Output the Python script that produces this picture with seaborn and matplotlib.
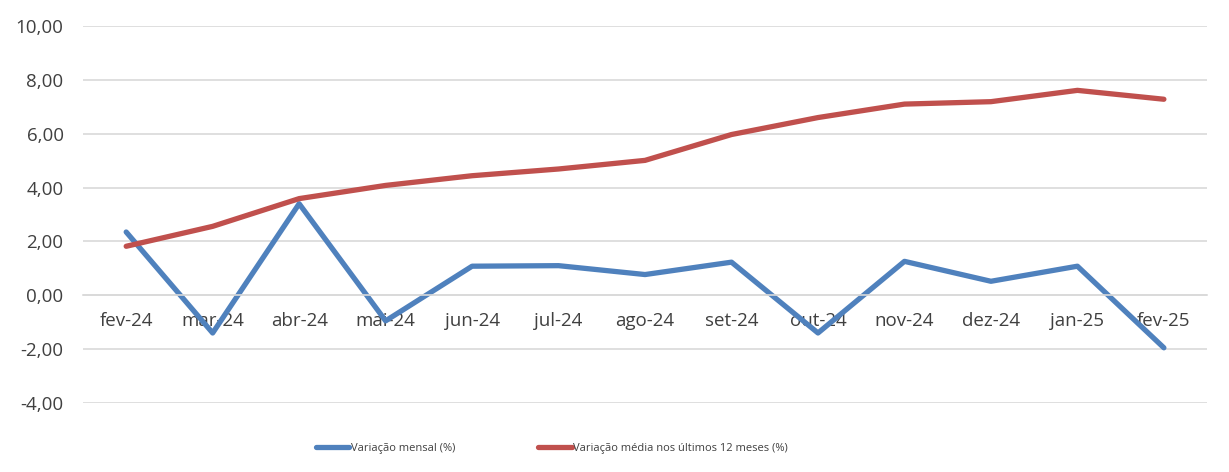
import numpy as np
import pandas as pd
import seaborn as sns
import matplotlib.pyplot as plt
from matplotlib.ticker import FuncFormatter, FixedLocator

# Data
meses = ["fev-24", "mar-24", "abr-24", "mai-24", "jun-24", "jul-24", "ago-24",
         "set-24", "out-24", "nov-24", "dez-24", "jan-25", "fev-25"]
var_mensal = [2.35, -1.40, 3.40, -0.95, 1.08, 1.10, 0.77, 1.23, -1.40, 1.26, 0.52, 1.08, -1.95]
var_media_12m = [1.82, 2.56, 3.59, 4.08, 4.44, 4.69, 5.01, 5.97, 6.60, 7.10, 7.19, 7.61, 7.28]
serie_nomes = ["Variação mensal (%)", "Variação média nos últimos 12 meses (%)"]
cores = ["#4F81BD", "#C0504D"]

df = pd.DataFrame({
    "x": list(range(len(meses))) * 2,
    "valor": var_mensal + var_media_12m,
    "serie": [serie_nomes[0]] * len(meses) + [serie_nomes[1]] * len(meses),
})

sns.set_style("white")
plt.rcParams["font.family"] = ["Open Sans", "DejaVu Sans"]

fig = plt.figure(figsize=(12.29, 4.72), dpi=100)
ax = fig.add_axes([0.0675, 0.1462, 0.9147, 0.7987])

sns.lineplot(data=df, x="x", y="valor", hue="serie", palette=cores,
             linewidth=3.8, ax=ax, legend=False, solid_capstyle="round")

ax.set_xlim(-0.5, len(meses) - 0.5)
ax.set_ylim(-4, 10)
ax.set_yticks(np.arange(-4, 10.1, 2))
ax.yaxis.set_major_formatter(FuncFormatter(lambda v, p: f"{v:.2f}".replace(".", ",")))
ax.yaxis.grid(True, color="#D9D9D9", linewidth=1.2)
ax.set_axisbelow(True)
ax.tick_params(axis="y", length=0, labelsize=13.5, labelcolor="#404040", pad=14)

# category axis crossing at zero
for s in ["top", "right", "left"]:
    ax.spines[s].set_visible(False)
ax.spines["bottom"].set_position(("data", 0))
ax.spines["bottom"].set_color("#D9D9D9")
ax.spines["bottom"].set_linewidth(1.2)
ax.set_xticks(range(len(meses)))
ax.set_xticklabels(meses)
ax.xaxis.set_minor_locator(FixedLocator(np.arange(-0.5, len(meses), 1)))
ax.tick_params(axis="x", which="major", length=0, labelsize=13.5, labelcolor="#404040", pad=12)
ax.tick_params(axis="x", which="minor", length=6, color="#D9D9D9", width=1.2, direction="out")
ax.set_xlabel("")
ax.set_ylabel("")

handles = [plt.Line2D([], [], color=c, linewidth=3.8, solid_capstyle="round") for c in cores]
fig.legend(handles, serie_nomes, loc="center", bbox_to_anchor=(0.449, 0.05), ncol=2,
           frameon=False, fontsize=8, handlelength=3.0, handletextpad=0.1,
           columnspacing=7.5, labelcolor="#404040")

fig.savefig("out.png", dpi=100)
